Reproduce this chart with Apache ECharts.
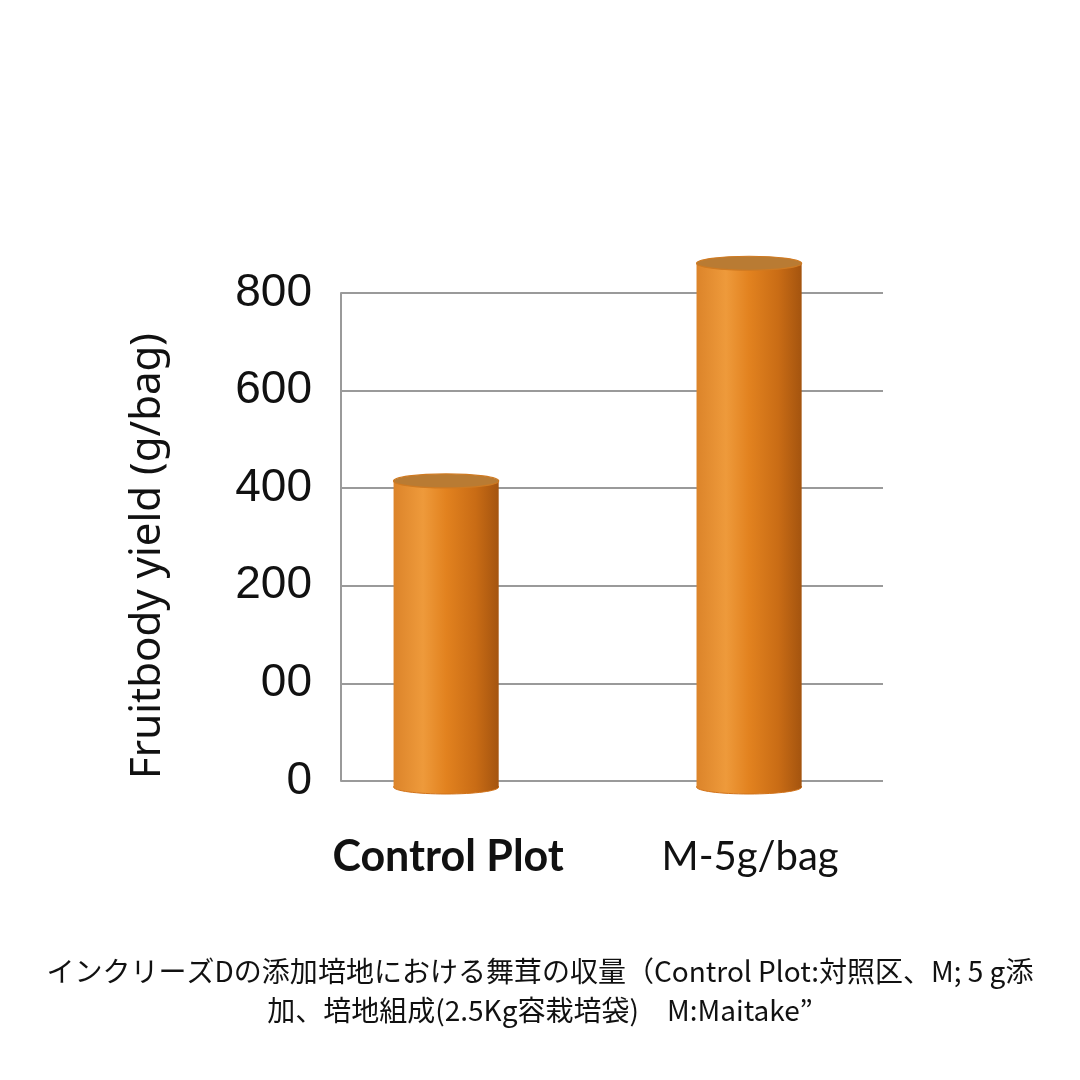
<!DOCTYPE html>
<html>
<head>
<meta charset="utf-8">
<script src="https://cdn.jsdelivr.net/npm/echarts@6/dist/echarts.min.js"></script>
<style>
html,body{margin:0;padding:0;background:#fff;}
#chart{width:1080px;height:1080px;}
</style>
</head>
<body>
<div id="chart"></div>
<script>
// ---- data ----
var categories = ['Control Plot', 'M-5g/bag'];
var yieldValues = [415, 861];               // g/bag
var yTickLabels = ['0', '00', '200', '400', '600', '800']; // as printed on the chart
var yTickValues = [0, 100, 200, 400, 600, 800];            // values those ticks stand for
var yAxisTitle = 'Fruitbody yield (g/bag)';
var captionLines = [
  'インクリーズDの添加培地における舞茸の収量（Control Plot:対照区、M; 5 g添',
  '加、培地組成(2.5Kg容栽培袋)　M:Maitake”'
];

// the printed axis has evenly spaced ticks; map a value to its tick position
function toAxis(v) {
  for (var i = 1; i < yTickValues.length; i++) {
    if (v <= yTickValues[i] || i === yTickValues.length - 1) {
      var a = yTickValues[i - 1], b = yTickValues[i];
      return (i - 1) + (v - a) / (b - a);
    }
  }
  return 0;
}

var seriesData = categories.map(function (c, i) { return [i, toAxis(yieldValues[i])]; });

var bodyGradient = new echarts.graphic.LinearGradient(0, 0, 1, 0, [
  { offset: 0, color: '#DC842A' },
  { offset: 0.28, color: '#EE9A3B' },
  { offset: 0.5, color: '#E2821F' },
  { offset: 0.78, color: '#C96C15' },
  { offset: 1, color: '#A4540F' }
]);

var labelStyles = [
  { font: 'bold 43px Lato', fill: '#111' },
  { font: '40px Lato', fill: '#111' }
];

var chart = echarts.init(document.getElementById('chart'));
chart.setOption({
  backgroundColor: '#ffffff',
  animation: false,
  grid: { left: 341, right: 197, top: 293, bottom: 299 },
  xAxis: {
    type: 'value', min: -0.347, max: 1.442,
    show: false
  },
  yAxis: {
    type: 'value', min: 0, max: 5, interval: 1,
    axisLine: { show: true, onZero: false, lineStyle: { color: '#9a9a9a', width: 2 } },
    axisTick: { show: false },
    splitLine: { show: true, lineStyle: { color: '#9a9a9a', width: 2 } },
    axisLabel: {
      formatter: function (v) { return yTickLabels[Math.round(v)]; },
      fontFamily: 'Liberation Sans', fontSize: 46, color: '#111', margin: 29
    }
  },
  graphic: [
    {
      type: 'text', x: 148, y: 556, rotation: Math.PI / 2,
      style: { text: yAxisTitle, font: '42px "Noto Sans"', fill: '#111',
               textAlign: 'center', textVerticalAlign: 'middle' }
    },
    {
      type: 'text', left: 'center', top: 952,
      style: { text: captionLines.join('\n'), font: '28px "Noto Sans CJK JP"', fill: '#111',
               textAlign: 'center', lineHeight: 39 }
    }
  ],
  series: [{
    type: 'custom',
    clip: false,
    data: seriesData,
    renderItem: function (params, api) {
      var xi = api.value(0);
      var top = api.coord([xi, api.value(1)]);
      var base = api.coord([xi, 0]);
      var w = api.size([0.347, 0])[0];
      var cx = top[0];
      var ry = 7;
      var bottomY = base[1] + 6;
      var topY = top[1];
      var st = labelStyles[params.dataIndex];
      return {
        type: 'group',
        children: [
          { type: 'ellipse', shape: { cx: cx, cy: bottomY, rx: w / 2, ry: ry },
            style: { fill: bodyGradient, stroke: '#D2731A', lineWidth: 1 } },
          { type: 'rect', shape: { x: cx - w / 2, y: topY, width: w, height: bottomY - topY },
            style: { fill: bodyGradient } },
          { type: 'ellipse', shape: { cx: cx, cy: topY, rx: w / 2, ry: ry },
            style: { fill: '#B97B33', stroke: '#CF7A22', lineWidth: 1.2 } },
          { type: 'text', x: cx + (params.dataIndex === 0 ? 2 : 1), y: 857,
            style: { text: categories[params.dataIndex], font: st.font, fill: st.fill,
                     textAlign: 'center', textVerticalAlign: 'middle' } }
        ]
      };
    }
  }]
});
</script>
</body>
</html>
